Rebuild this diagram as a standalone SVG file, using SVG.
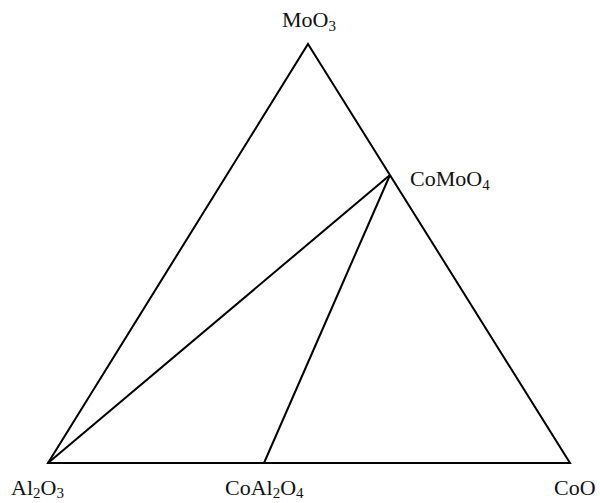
<svg xmlns="http://www.w3.org/2000/svg" width="600" height="503" viewBox="0 0 600 503">
<style>
.ln{stroke:#000;stroke-width:2;fill:none;stroke-linejoin:miter}
.lb{font-family:"Liberation Serif","Times New Roman",serif;font-size:22px;fill:#111}
.sb{font-size:15px}
</style>
<rect width="600" height="503" fill="#fff"/>
<g id="connectors">
<polygon class="ln" points="308,44 570,463 48,463"/>
<line class="ln" x1="48" y1="463" x2="390" y2="175"/>
<line class="ln" x1="390" y1="175" x2="264" y2="463"/>
</g>
<g id="node-MoO3"><text class="lb" x="282" y="27">MoO<tspan class="sb" dy="4">3</tspan></text></g>
<g id="node-CoMoO4"><text class="lb" x="410" y="186">CoMoO<tspan class="sb" dy="4">4</tspan></text></g>
<g id="node-Al2O3"><text class="lb" x="11" y="495">Al<tspan class="sb" dy="3">2</tspan><tspan dy="-3">O</tspan><tspan class="sb" dy="3">3</tspan></text></g>
<g id="node-CoAl2O4"><text class="lb" x="225" y="495">CoAl<tspan class="sb" dy="3">2</tspan><tspan dy="-3">O</tspan><tspan class="sb" dy="3">4</tspan></text></g>
<g id="node-CoO"><text class="lb" x="554" y="495">CoO</text></g>
</svg>
